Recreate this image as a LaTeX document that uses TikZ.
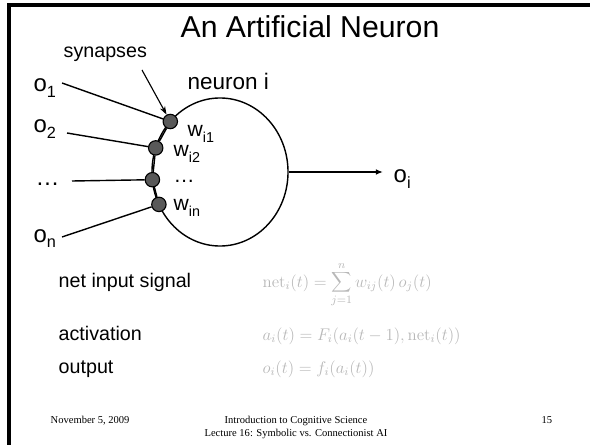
\documentclass[tikz,border=0pt]{standalone}
\usepackage[no-math]{fontspec}
\setmainfont{Liberation Sans}
\newfontfamily\footfont{Liberation Serif}
\usetikzlibrary{shapes.geometric,arrows.meta}
\newcommand{\idx}[1]{\raisebox{-0.24em}{\scalebox{0.68}{#1}}}
\begin{document}
\begin{tikzpicture}[x=0.025cm, y=-0.025cm, line width=1pt,
		lbl/.style={anchor=base west, inner sep=0pt},
		synapse/.style={circle, draw, line width=0.8pt, fill=black!65, minimum size=0.36cm, inner sep=0pt},
		formula/.style={anchor=base west, inner sep=0pt, text=black!28},
		foot/.style={inner sep=0pt, font=\footfont\fontsize{7.5}{9}\selectfont}]
	\useasboundingbox (0,0) rectangle (590,445);
	% ---- slide frame ----
	\draw[line width=2.2pt] (590,5) -- (9,5) -- (9,445);
	\node[anchor=base, inner sep=0pt, font=\fontsize{21.5}{24}\selectfont] (title) at (310,38) {An Artificial Neuron};
	% ---- the neuron ----
	\node[ellipse, draw, minimum width=3.4cm, minimum height=3.7cm, inner sep=0pt] (neuron) at (220,172) {};
	\node[lbl, font=\fontsize{16}{18}\selectfont] (name) at (187,90) {neuron i};
	\node[synapse] (s1) at (170.3,121.5) {};
	\node[synapse] (s2) at (155.7,147.9) {};
	\node[synapse] (s3) at (152.4,179.7) {};
	\node[synapse] (s4) at (158.9,204.4) {};
	\draw (s1) -- (s2) -- (s3) -- (s4);
	% ---- inputs ----
	\begin{scope}[font=\fontsize{17}{20}\selectfont]
		\node[lbl] (o1) at (33,92) {o\idx{1}};
		\node[lbl] (o2) at (33,133) {o\idx{2}};
		\node[lbl] (odots) at (35,186) {\dots};
		\node[lbl] (on) at (33,242) {o\idx{n}};
	\end{scope}
	\coordinate (in1) at (62,83);
	\coordinate (in2) at (67,133);
	\coordinate (in3) at (72,181);
	\coordinate (in4) at (62,237);
	\draw (in1) -- (s1);
	\draw (in2) -- (s2);
	\draw (in3) -- (s3);
	\draw (in4) -- (s4);
	% ---- weights ----
	\begin{scope}[font=\fontsize{15}{17}\selectfont]
		\node[lbl] (w1) at (187,137) {w\idx{i1}};
		\node[lbl] (w2) at (173,157) {w\idx{i2}};
		\node[lbl] (wdots) at (173,183) {\dots};
		\node[lbl] (wn) at (173,211) {w\idx{in}};
	\end{scope}
	\node[lbl, font=\fontsize{14}{16}\selectfont] (syn) at (63,58) {synapses};
	\coordinate (synstart) at (142,70);
	\draw[-{Stealth[length=6pt,width=4pt]}, line width=0.8pt] (synstart) -- (s1);
	% ---- output ----
	\node[lbl, font=\fontsize{17}{20}\selectfont] (oi) at (393,183) {o\idx{i}};
	\coordinate (outend) at (383,172);
	\draw[-{Latex[length=5pt,width=4pt]}] (neuron.east) -- (outend);
	% ---- equations ----
	\begin{scope}[font=\fontsize{14}{16}\selectfont]
		\node[lbl] (netlbl) at (58,287) {net input signal};
		\node[lbl] (actlbl) at (58,340) {activation};
		\node[lbl] (outlbl) at (58,373) {output};
	\end{scope}
	\begin{scope}[font=\fontsize{12}{14}\selectfont]
		\node[formula] (neteq) at (262,287) {$\displaystyle \mathrm{net}_i(t)=\sum_{j=1}^{n} w_{ij}(t)\,o_j(t)$};
		\node[formula] (acteq) at (262,340) {$a_i(t)=F_i(a_i(t-1),\mathrm{net}_i(t))$};
		\node[formula] (outeq) at (262,373) {$o_i(t)=f_i(a_i(t))$};
	\end{scope}
	% ---- footer ----
	\node[foot, anchor=base west] (date) at (50,423) {November 5, 2009};
	\node[foot, anchor=base] (course) at (296,423) {Introduction to Cognitive Science};
	\node[foot, anchor=base] (lecture) at (296,436) {Lecture 16: Symbolic vs. Connectionist AI};
	\node[foot, anchor=base west] (page) at (541,423) {15};
\end{tikzpicture}
\end{document}
